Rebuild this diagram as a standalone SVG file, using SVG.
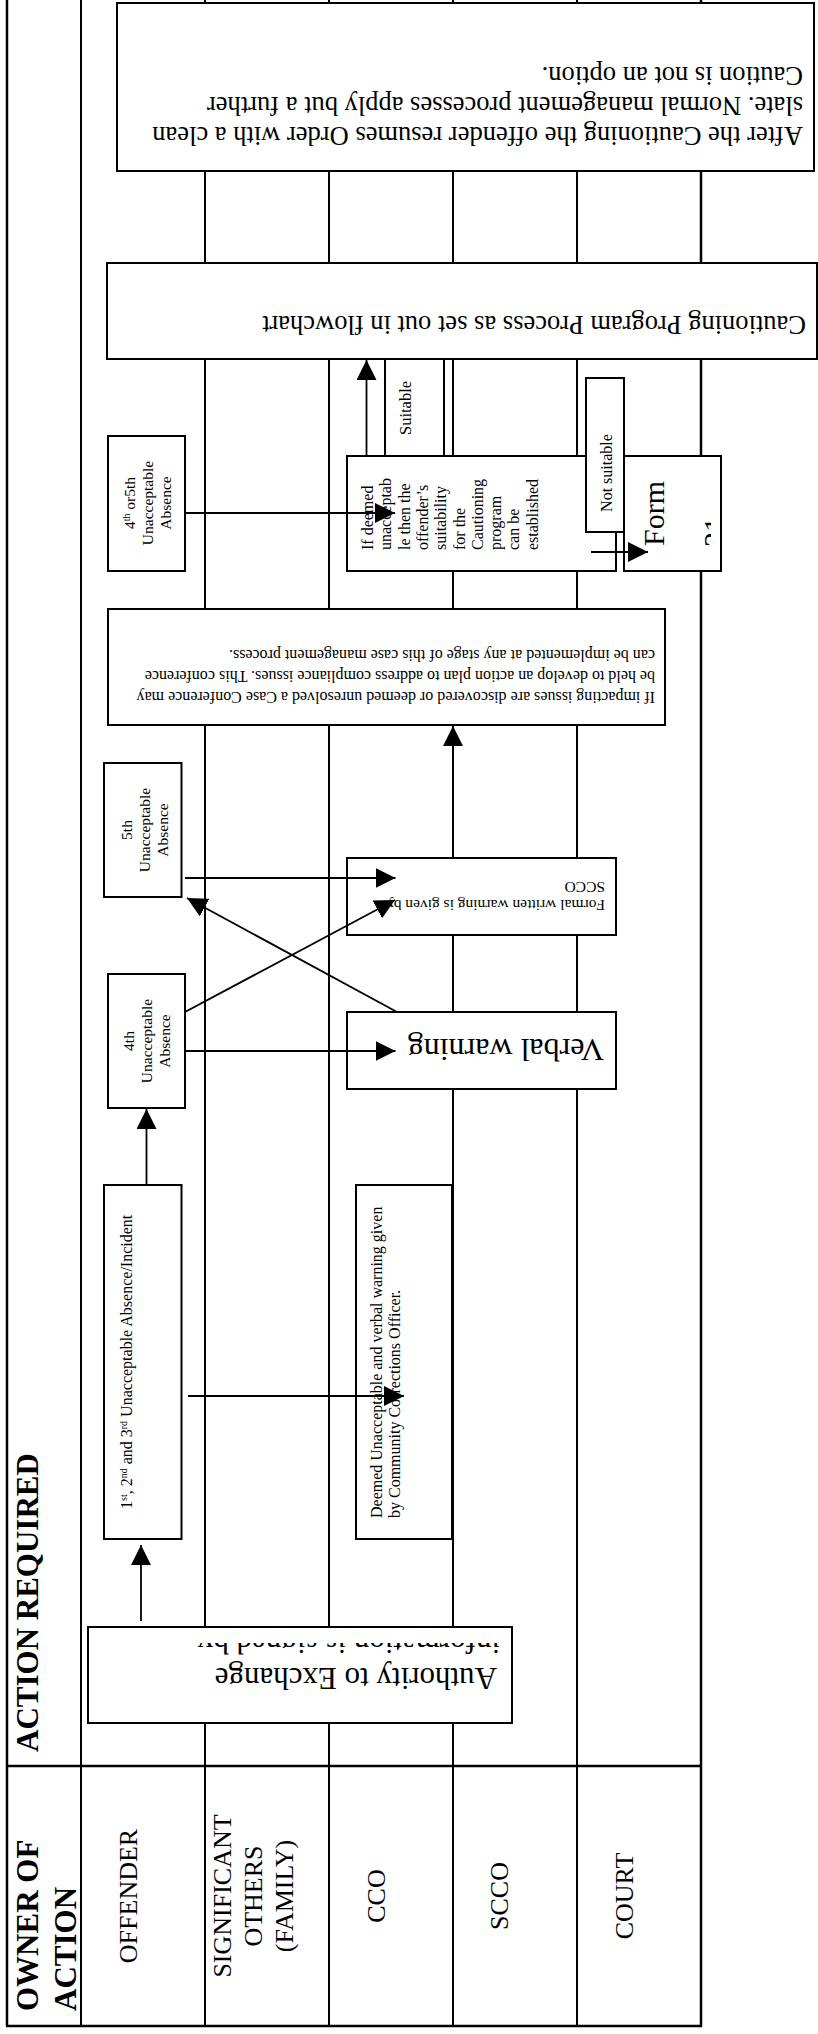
<svg xmlns="http://www.w3.org/2000/svg" width="818" height="2034" viewBox="0 0 818 2034">
<style>
.tl{stroke:#000;stroke-width:2;fill:none}
.to{stroke:#000;stroke-width:2.5;fill:none}
.box{fill:#fff;stroke:#000;stroke-width:2}
.t{font-family:"Liberation Serif","Times New Roman",serif;fill:#000}
.b{font-weight:bold}
.c{stroke:#000;stroke-width:1.8;fill:none}
</style>
<defs>
<marker id="ah" markerUnits="userSpaceOnUse" markerWidth="20" markerHeight="20" viewBox="0 0 20 20" refX="20" refY="10" orient="auto"><path d="M0,0 L20,10 L0,20 z" fill="#000"/></marker>
<clipPath id="clipAuth"><rect x="88" y="1643" width="424" height="80"/></clipPath>
<clipPath id="clipForm"><rect x="624" y="456" width="87" height="115"/></clipPath>
</defs>
<rect width="818" height="2034" fill="#fff"/>
<g id="table">
<line class="to" x1="7" y1="0" x2="7" y2="2026"/>
<line class="tl" x1="81" y1="0" x2="81" y2="2026"/>
<line class="tl" x1="205" y1="0" x2="205" y2="2026"/>
<line class="tl" x1="329" y1="0" x2="329" y2="2026"/>
<line class="tl" x1="453" y1="0" x2="453" y2="2026"/>
<line class="tl" x1="577" y1="0" x2="577" y2="2026"/>
<line class="to" x1="701" y1="0" x2="701" y2="2026"/>
<line class="to" x1="6" y1="1766" x2="702" y2="1766"/>
<line class="to" x1="6" y1="2026" x2="702" y2="2026"/>
<text class="t b" font-size="31" transform="translate(38,2011) rotate(-90)">OWNER OF</text>
<text class="t b" font-size="31" transform="translate(76,2011) rotate(-90)">ACTION</text>
<text class="t b" font-size="31" transform="translate(38,1752) rotate(-90)">ACTION REQUIRED</text>
<text class="t" font-size="26" text-anchor="middle" transform="translate(137,1896) rotate(-90)">OFFENDER</text>
<text class="t" font-size="26" text-anchor="middle" transform="translate(231,1896) rotate(-90)">SIGNIFICANT</text>
<text class="t" font-size="26" text-anchor="middle" transform="translate(262,1896) rotate(-90)">OTHERS</text>
<text class="t" font-size="26" text-anchor="middle" transform="translate(293,1896) rotate(-90)">(FAMILY)</text>
<text class="t" font-size="26" text-anchor="middle" transform="translate(385,1896) rotate(-90)">CCO</text>
<text class="t" font-size="26" text-anchor="middle" transform="translate(508,1896) rotate(-90)">SCCO</text>
<text class="t" font-size="26" text-anchor="middle" transform="translate(633,1896) rotate(-90)">COURT</text>
</g>
<g id="nodes">
<g id="after">
<rect class="box" x="117" y="3" width="697" height="168"/>
<text class="t" font-size="26.5" transform="translate(803,127) rotate(180)">After the Cautioning the offender resumes Order with a clean</text>
<text class="t" font-size="26.5" transform="translate(803,97) rotate(180)">slate. Normal management processes apply but a further</text>
<text class="t" font-size="26.5" transform="translate(803,67) rotate(180)">Caution is not an option.</text>
</g>
<g id="cautioning">
<rect class="box" x="107" y="263" width="710" height="96"/>
<text class="t" font-size="26.5" transform="translate(806,316) rotate(180)">Cautioning Program Process as set out in flowchart</text>
</g>
<g id="suitable">
<rect class="box" x="385" y="359" width="59" height="97"/>
<text class="t" font-size="16.5" text-anchor="middle" transform="translate(411,408) rotate(-90)">Suitable</text>
</g>
<g id="absence45">
<rect class="box" x="108" y="436" width="77" height="135"/>
<text class="t" font-size="15.5" text-anchor="middle" transform="translate(135,503) rotate(-90)">4<tspan dy="-5" font-size="10">th</tspan><tspan dy="5"> or5th</tspan></text>
<text class="t" font-size="15.5" text-anchor="middle" transform="translate(153,503) rotate(-90)">Unacceptable</text>
<text class="t" font-size="15.5" text-anchor="middle" transform="translate(171,503) rotate(-90)">Absence</text>
</g>
<g id="ifdeemed">
<rect class="box" x="347" y="456" width="269" height="115"/>
<text class="t" font-size="16" transform="translate(373,550) rotate(-90)">If deemed</text>
<text class="t" font-size="16" transform="translate(391.3,550) rotate(-90)">unacceptab</text>
<text class="t" font-size="16" transform="translate(409.6,550) rotate(-90)">le then the</text>
<text class="t" font-size="16" transform="translate(427.9,550) rotate(-90)">offender’s</text>
<text class="t" font-size="16" transform="translate(446.2,550) rotate(-90)">suitability</text>
<text class="t" font-size="16" transform="translate(464.5,550) rotate(-90)">for the</text>
<text class="t" font-size="16" transform="translate(482.8,550) rotate(-90)">Cautioning</text>
<text class="t" font-size="16" transform="translate(501.1,550) rotate(-90)">program</text>
<text class="t" font-size="16" transform="translate(519.4,550) rotate(-90)">can be</text>
<text class="t" font-size="16" transform="translate(537.7,550) rotate(-90)">established</text>
</g>
<g id="form21">
<rect class="box" x="624" y="456" width="97" height="115"/>
<text class="t" font-size="30" transform="translate(664,546) rotate(-90)">Form</text>
<g clip-path="url(#clipForm)"><text class="t" font-size="30" transform="translate(724,547) rotate(-90)">21</text></g>
</g>
<g id="notsuitable">
<rect class="box" x="586" y="378" width="38" height="154"/>
<text class="t" font-size="16" text-anchor="middle" transform="translate(612,473) rotate(-90)">Not suitable</text>
</g>
<g id="caseconf">
<rect class="box" x="108" y="609" width="557" height="116"/>
<text class="t" font-size="16" transform="translate(655,692) rotate(180)">If impacting issues are discovered or deemed unresolved a Case Conference may</text>
<text class="t" font-size="16" transform="translate(655,671) rotate(180)">be held to develop an action plan to address compliance issues. This conference</text>
<text class="t" font-size="16" transform="translate(655,650) rotate(180)">can be implemented at any stage of this case management process.</text>
</g>
<g id="absence5">
<rect class="box" x="104" y="763" width="77.5" height="134"/>
<text class="t" font-size="15.5" text-anchor="middle" transform="translate(132,830) rotate(-90)">5th</text>
<text class="t" font-size="15.5" text-anchor="middle" transform="translate(150,830) rotate(-90)">Unacceptable</text>
<text class="t" font-size="15.5" text-anchor="middle" transform="translate(168,830) rotate(-90)">Absence</text>
</g>
<g id="formal">
<rect class="box" x="347" y="858" width="269" height="77"/>
<text class="t" font-size="15.5" transform="translate(605,900) rotate(180)">Formal written warning is given by</text>
<text class="t" font-size="15.5" transform="translate(605,882) rotate(180)">SCCO</text>
</g>
<g id="absence4">
<rect class="box" x="108" y="974" width="77" height="134"/>
<text class="t" font-size="15.5" text-anchor="middle" transform="translate(134,1041) rotate(-90)">4th</text>
<text class="t" font-size="15.5" text-anchor="middle" transform="translate(152,1041) rotate(-90)">Unacceptable</text>
<text class="t" font-size="15.5" text-anchor="middle" transform="translate(170,1041) rotate(-90)">Absence</text>
</g>
<g id="verbal">
<rect class="box" x="347" y="1012" width="269" height="77"/>
<text class="t" font-size="32" transform="translate(604,1039) rotate(180)">Verbal warning</text>
</g>
<g id="first">
<rect class="box" x="104" y="1185" width="77.5" height="354"/>
<text class="t" font-size="16" transform="translate(132,1509) rotate(-90)">1<tspan dy="-5" font-size="10">st</tspan><tspan dy="5">, 2</tspan><tspan dy="-5" font-size="10">nd</tspan><tspan dy="5"> and 3</tspan><tspan dy="-5" font-size="10">rd</tspan><tspan dy="5"> Unacceptable Absence/Incident</tspan></text>
</g>
<g id="deemed">
<rect class="box" x="356" y="1185" width="96" height="354"/>
<text class="t" font-size="16" transform="translate(382,1518) rotate(-90)">Deemed Unacceptable and verbal warning given</text>
<text class="t" font-size="16" transform="translate(400,1518) rotate(-90)">by Community Corrections Officer.</text>
</g>
<g id="authority">
<rect class="box" x="88" y="1627" width="424" height="96"/>
<text class="t" font-size="31" transform="translate(497,1668) rotate(180)">Authority to Exchange</text>
<g clip-path="url(#clipAuth)"><text class="t" font-size="31" transform="translate(500,1632) rotate(180)">information is signed by</text></g>
</g>
</g>
<g id="connectors">
<line class="c" x1="141" y1="1621" x2="141" y2="1545" marker-end="url(#ah)"/>
<line class="c" x1="188" y1="1396" x2="404" y2="1396" marker-end="url(#ah)"/>
<line class="c" x1="146.5" y1="1185" x2="146.5" y2="1109" marker-end="url(#ah)"/>
<line class="c" x1="185" y1="1051" x2="395.5" y2="1051" marker-end="url(#ah)"/>
<line class="c" x1="185" y1="1012" x2="395" y2="900" marker-end="url(#ah)"/>
<line class="c" x1="397" y1="1012" x2="187" y2="898" marker-end="url(#ah)"/>
<line class="c" x1="185" y1="878" x2="395.5" y2="878" marker-end="url(#ah)"/>
<line class="c" x1="453" y1="858" x2="453" y2="726" marker-end="url(#ah)"/>
<line class="c" x1="185" y1="513" x2="395" y2="513" marker-end="url(#ah)"/>
<line class="c" x1="366.5" y1="456" x2="366.5" y2="360" marker-end="url(#ah)"/>
<line class="c" x1="591" y1="552" x2="648" y2="552" marker-end="url(#ah)"/>
</g>
</svg>
